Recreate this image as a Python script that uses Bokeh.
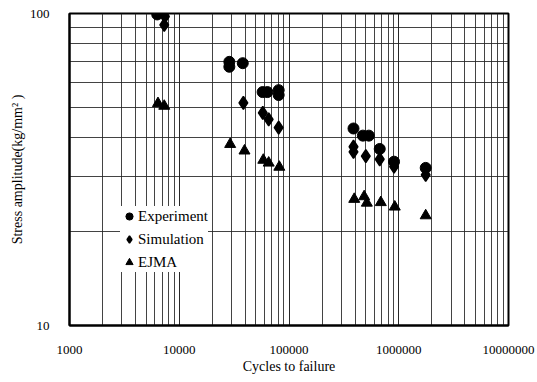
from bokeh.plotting import figure
from bokeh.models import FixedTicker, Legend, LegendItem, BasicTickFormatter
from bokeh.embed import file_html
from bokeh.resources import INLINE

# ---- data ----
exp_cycles = [6300, 28600, 28600, 37900, 57500, 63500, 80500, 80500,
              387000, 471000, 534000, 671000, 906000, 1760000]
exp_stress = [99.3, 70.0, 67.5, 69.3, 56.0, 56.0, 56.8, 54.8,
              42.8, 40.6, 40.6, 36.8, 33.5, 32.0]

sim_cycles = [7400, 7300, 38400, 57700, 65300, 80500,
              387000, 387000, 501000, 671000, 906000, 1760000]
sim_stress = [97.8, 92.0, 51.7, 48.0, 45.8, 43.1,
              37.4, 36.0, 34.9, 34.1, 32.3, 30.4]

ejma_cycles = [6400, 7300, 29100, 39300, 58300, 65300, 81600,
               393000, 484000, 512000, 686000, 920000, 1760000]
ejma_stress = [51.5, 50.5, 38.1, 36.3, 33.9, 33.2, 32.2,
               25.4, 25.9, 24.7, 24.8, 24.0, 22.5]

x_ticks = [1000, 10000, 100000, 1000000, 10000000]
x_tick_labels = ["1000", "10000", "100000", "1000000", "10000000"]
y_ticks = [10, 100]
y_tick_labels = ["10", "100"]

series_names = ["Experiment", "Simulation", "EJMA"]

FONT = "Liberation Serif"

p = figure(width=537, height=376, x_axis_type="log", y_axis_type="log",
           x_range=(1000, 10000000), y_range=(10, 100),
           output_backend="svg", toolbar_location=None,
           min_border_left=69, min_border_right=29,
           min_border_top=13, min_border_bottom=50)

x_minor = [k * t for t in x_ticks[:-1] for k in range(2, 10)]
y_minor = [k * t for t in y_ticks[:-1] for k in range(2, 10)]
xt = FixedTicker(ticks=x_ticks, minor_ticks=x_minor)
yt = FixedTicker(ticks=y_ticks, minor_ticks=y_minor)
p.xaxis.ticker = xt
p.xgrid.ticker = xt
p.yaxis.ticker = yt
p.ygrid.ticker = yt
p.xaxis.formatter = BasicTickFormatter(use_scientific=False)
p.yaxis.formatter = BasicTickFormatter(use_scientific=False)
p.xaxis.major_label_overrides = dict(zip(x_ticks, x_tick_labels))
p.yaxis.major_label_overrides = dict(zip(y_ticks, y_tick_labels))

for g in (p.xgrid, p.ygrid):
    g.grid_line_color = "#111111"
    g.grid_line_alpha = 0.9
    g.minor_grid_line_color = "#222222"
    g.minor_grid_line_alpha = 0.85
    g.grid_line_width = 1
    g.minor_grid_line_width = 1

p.outline_line_color = "black"
p.outline_line_width = 2
p.background_fill_color = "white"
p.border_fill_color = "white"

for ax in (p.xaxis, p.yaxis):
    ax.axis_line_color = "black"
    ax.axis_line_width = 2
    ax.major_tick_line_color = None
    ax.minor_tick_line_color = None
    ax.major_label_text_font = FONT
    ax.major_label_text_font_size = "13px"
    ax.major_label_text_color = "black"
    ax.major_label_standoff = 14
    ax.axis_label_text_font = FONT
    ax.axis_label_text_font_size = "14px"
    ax.axis_label_text_font_style = "normal"
    ax.axis_label_text_color = "black"
    ax.axis_label_standoff = 2

p.xaxis.axis_label = "Cycles to failure"
p.yaxis.axis_label = "Stress amplitude(kg/mm\u00b2 )"
p.yaxis.axis_label_standoff = 2

r_exp = p.scatter(exp_cycles, exp_stress, marker="circle", size=11,
                  fill_color="black", line_color="black")
r_sim = p.scatter(sim_cycles, sim_stress, marker="diamond", size=13,
                  fill_color="black", line_color="black", line_width=1.5)
r_ejma = p.scatter(ejma_cycles, ejma_stress, marker="triangle", size=11,
                   fill_color="black", line_color="black")

legend = Legend(items=[LegendItem(label=series_names[0], renderers=[r_exp]),
                       LegendItem(label=series_names[1], renderers=[r_sim]),
                       LegendItem(label=series_names[2], renderers=[r_ejma])],
                location=(51, 53))
legend.margin = 0
legend.background_fill_color = "white"
legend.background_fill_alpha = 1
legend.border_line_color = None
legend.label_text_font = FONT
legend.label_text_font_size = "15px"
legend.label_text_color = "black"
legend.glyph_width = 18
legend.glyph_height = 20
legend.label_height = 20
legend.label_standoff = 0
legend.padding = 10
legend.spacing = 3
p.add_layout(legend, "center")

open("out.html", "w").write(file_html(p, INLINE))
